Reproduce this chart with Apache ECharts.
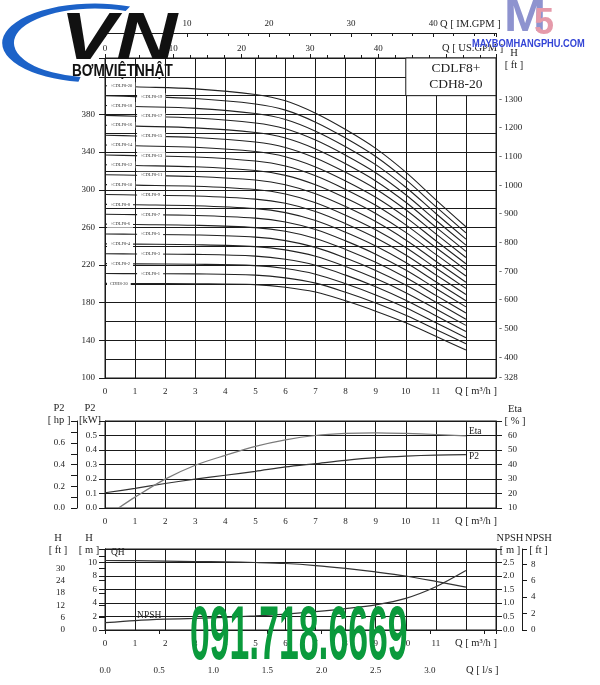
<!DOCTYPE html>
<html>
<head>
<meta charset="utf-8">
<script src="https://cdn.jsdelivr.net/npm/echarts@6/dist/echarts.min.js"></script>
<style>
  html, body { margin: 0; padding: 0; background: #fff; }
  #main { width: 600px; height: 685px; }
</style>
</head>
<body>
<div id="main"></div>
<script>
// H-Q curves of CDH8-20 alone and with +CDLF8-1 ... +CDLF8-20 stages (m)
const qMain = [0, 1, 3, 5, 6, 7, 8, 9, 10, 11, 12];
const curveNames = ['CDH8-20', '+CDLF8-1', '+CDLF8-2', '+CDLF8-3', '+CDLF8-4', '+CDLF8-5',
  '+CDLF8-6', '+CDLF8-7', '+CDLF8-8', '+CDLF8-9', '+CDLF8-10', '+CDLF8-11', '+CDLF8-12',
  '+CDLF8-13', '+CDLF8-14', '+CDLF8-15', '+CDLF8-16', '+CDLF8-17', '+CDLF8-18', '+CDLF8-19', '+CDLF8-20'];
const headCurves = [
  [200.5, 200.4, 200.2, 199.2, 196.5, 191.3, 182.0, 171.0, 158.7, 144.3, 129.7],
  [211.0, 210.9, 210.6, 209.3, 206.4, 200.8, 191.1, 179.7, 166.7, 151.6, 136.3],
  [221.5, 221.3, 220.9, 219.4, 216.3, 210.3, 200.2, 188.3, 174.7, 158.8, 142.8],
  [232.0, 231.8, 231.3, 229.5, 226.2, 219.8, 209.3, 197.0, 182.7, 166.1, 149.4],
  [242.5, 242.2, 241.6, 239.6, 236.1, 229.3, 218.4, 205.6, 190.7, 173.3, 155.9],
  [253.0, 252.7, 252.0, 249.7, 246.0, 238.8, 227.5, 214.3, 198.7, 180.6, 162.5],
  [263.5, 263.1, 262.3, 259.8, 255.9, 248.3, 236.6, 222.9, 206.7, 187.8, 169.0],
  [274.0, 273.6, 272.7, 269.9, 265.8, 257.8, 245.7, 231.6, 214.7, 195.1, 175.6],
  [284.5, 284.0, 283.0, 280.0, 275.7, 267.3, 254.8, 240.2, 222.7, 202.3, 182.1],
  [295.0, 294.5, 293.4, 290.1, 285.6, 276.8, 263.9, 248.9, 230.7, 209.6, 188.7],
  [305.5, 304.9, 303.7, 300.2, 295.5, 286.3, 273.0, 257.5, 238.7, 216.8, 195.2],
  [316.0, 315.4, 314.1, 310.3, 305.4, 295.8, 282.1, 266.2, 246.7, 224.1, 201.8],
  [326.5, 325.8, 324.4, 320.4, 315.3, 305.3, 291.2, 274.8, 254.7, 231.3, 208.3],
  [337.0, 336.3, 334.8, 330.5, 325.2, 314.8, 300.3, 283.5, 262.7, 238.6, 214.9],
  [347.5, 346.7, 345.1, 340.6, 335.1, 324.3, 309.4, 292.1, 270.7, 245.8, 221.4],
  [358.0, 357.2, 355.5, 350.7, 345.0, 333.8, 318.5, 300.8, 278.7, 253.1, 228.0],
  [368.5, 367.6, 365.8, 360.8, 354.9, 343.3, 327.6, 309.4, 286.7, 260.3, 234.5],
  [379.0, 378.1, 376.2, 370.9, 364.8, 352.8, 336.7, 318.1, 294.7, 267.6, 241.1],
  [389.5, 388.5, 386.5, 381.0, 374.7, 362.3, 345.8, 326.7, 302.7, 274.8, 247.6],
  [400.0, 399.0, 396.9, 391.1, 384.6, 371.8, 354.9, 335.4, 310.7, 282.1, 254.2],
  [410.5, 409.4, 407.2, 401.2, 394.5, 381.3, 364.0, 344.0, 318.7, 289.3, 260.7]
];

// power / efficiency panel
const qPerf = [0, 1, 2, 3, 4, 5, 6, 7, 8, 9, 10, 11, 12];
const p2Kw = [0.105, 0.135, 0.169, 0.199, 0.226, 0.253, 0.283, 0.306, 0.329, 0.347, 0.358, 0.365, 0.368];
const etaQ = [0.45, 1, 2, 3, 4, 5, 6, 7, 8, 9, 10, 11, 12];
const etaPct = [10, 17.5, 29.9, 39.5, 46.3, 52.5, 57, 60, 61.4, 61.8, 61.4, 60.7, 59.8];

// single stage QH and NPSH panel
const qhHead = [10.3, 10.27, 10.2, 10.15, 10.1, 10.0, 9.85, 9.55, 9.12, 8.6, 8.0, 7.2, 6.35];
const npshM = [0.27, 0.35, 0.40, 0.43, 0.47, 0.52, 0.59, 0.68, 0.79, 0.93, 1.17, 1.6, 2.2];

// right hand ft scale of the main chart
const ftTicks = [328.084, 400, 500, 600, 700, 800, 900, 1000, 1100, 1200, 1300];

const FT = 3.28084, USGPM = 4.40287, IMGPM = 3.66614, HP = 1.34102;
const serif = 'Liberation Serif';
const ink = '#1a1a1a';
const lbl = { color: '#222', fontFamily: serif, fontSize: 9 };
const nameTxt = { color: '#222', fontFamily: serif, fontSize: 10.5, lineHeight: 12 };
// invisible anchor point for a text label on a line
const anchor = { symbol: 'circle', symbolSize: 0, itemStyle: { color: 'transparent', borderWidth: 0, borderColor: 'transparent' } };

const chart = echarts.init(document.getElementById('main'));

function qAxis(gridIndex) {
  return {
    type: 'value', gridIndex, min: 0, max: 13, interval: 1,
    name: 'Q [ m³/h ]', nameLocation: 'end', nameGap: -41, nameMoveOverlap: false,
    nameTextStyle: Object.assign({}, nameTxt, { verticalAlign: 'top', lineHeight: 26 }),
    axisLine: { show: true, lineStyle: { color: ink } },
    axisTick: { show: false },
    axisLabel: Object.assign({}, lbl, { margin: 9, formatter: v => (v <= 11 ? String(v) : '') }),
    splitLine: { show: true, lineStyle: { color: ink, width: 1 } }
  };
}

function yAx(o) {
  return Object.assign({
    type: 'value', nameLocation: 'end', nameMoveOverlap: false,
    axisLine: { show: true, lineStyle: { color: ink } },
    axisTick: { show: true, length: 6, lineStyle: { color: ink } },
    splitLine: { show: false }
  }, o);
}

const headSeries = headCurves.map((vals, n) => ({
  type: 'line', xAxisIndex: 0, yAxisIndex: 0, smooth: 0.35,
  symbol: 'none', showSymbol: true, silent: true, z: 3,
  lineStyle: { color: '#222', width: 1.1 },
  data: vals.map((h, i) => {
    if (i !== (n % 2 === 0 ? 0 : 1)) return [qMain[i], h];
    return Object.assign({ value: [qMain[i], h] }, anchor, {
      label: {
        show: true, formatter: curveNames[n], position: 'right', distance: 2,
        fontFamily: serif, fontSize: 4.5, color: '#333',
        backgroundColor: '#fff', padding: [1, 3]
      }
    });
  })
}));

headSeries[0].markArea = {
  silent: true,
  itemStyle: { color: '#fff', borderColor: ink, borderWidth: 1 },
  label: {
    show: true, position: 'inside', offset: [5, 0],
    formatter: 'CDLF8+\nCDH8-20', fontFamily: serif, fontSize: 13.5, lineHeight: 16, color: '#222'
  },
  data: [[{ coord: [10, 400] }, { coord: [13, 440] }]]
};

const option = {
  animation: false,
  textStyle: { fontFamily: serif },
  grid: [
    { left: 105, top: 58, width: 391, height: 320, show: true, borderColor: ink, borderWidth: 1 },
    { left: 105, top: 421, width: 391, height: 87, show: true, borderColor: ink, borderWidth: 1 },
    { left: 105, top: 549, width: 391, height: 81, show: true, borderColor: ink, borderWidth: 1 }
  ],
  xAxis: [
    qAxis(0),
    {
      type: 'value', gridIndex: 0, position: 'top', min: 0, max: 13 * USGPM, interval: 10,
      name: 'Q [ US.GPM ]', nameLocation: 'end', nameGap: -54, nameMoveOverlap: false,
      nameTextStyle: Object.assign({}, nameTxt, { verticalAlign: 'bottom', lineHeight: 20 }),
      axisLine: { show: true, lineStyle: { color: ink } },
      axisTick: { show: true, length: 4, lineStyle: { color: ink } },
      minorTick: { show: true, splitNumber: 4, length: 3, lineStyle: { color: ink } },
      axisLabel: Object.assign({}, lbl, { margin: 5, formatter: v => (v <= 40 ? String(v) : '') }),
      splitLine: { show: false }
    },
    {
      type: 'value', gridIndex: 0, position: 'top', offset: 25, min: 0, max: 13 * IMGPM, interval: 10,
      name: 'Q [ IM.GPM ]', nameLocation: 'end', nameGap: -56, nameMoveOverlap: false,
      nameTextStyle: Object.assign({}, nameTxt, { verticalAlign: 'bottom', lineHeight: 18 }),
      axisLine: { show: true, lineStyle: { color: ink } },
      axisTick: { show: true, inside: true, length: 4, lineStyle: { color: ink } },
      minorTick: { show: true, splitNumber: 4, length: 3, lineStyle: { color: ink } },
      axisLabel: Object.assign({}, lbl, { margin: 5, formatter: v => (v > 0 && v <= 40 ? String(v) : '') }),
      splitLine: { show: false }
    },
    qAxis(1),
    qAxis(2),
    {
      type: 'value', gridIndex: 2, position: 'bottom', offset: 30, min: 0, max: 13 / 3.6, interval: 0.5,
      axisLine: { show: true, lineStyle: { color: ink } },
      axisTick: { show: true, length: 4, lineStyle: { color: ink } },
      axisLabel: Object.assign({}, lbl, { margin: 6, formatter: v => (v <= 3.01 ? v.toFixed(1) : '') }),
      splitLine: { show: false }
    }
  ],
  yAxis: [
    yAx({
      gridIndex: 0, position: 'left', min: 100, max: 440, interval: 40,
      axisLabel: Object.assign({}, lbl, { margin: 10, formatter: v => (v <= 380 ? String(v) : '') }),
      splitLine: { show: true, lineStyle: { color: ink, width: 1 } },
      minorTick: { show: false, splitNumber: 2 },
      minorSplitLine: { show: true, lineStyle: { color: ink, width: 1 } }
    }),
    yAx({
      gridIndex: 0, position: 'right', min: 100 * FT, max: 440 * FT, interval: 100,
      axisTick: { show: false },
      axisLabel: Object.assign({}, lbl, { margin: 3, customValues: ftTicks, formatter: v => '- ' + Math.round(v) })
    }),
    yAx({
      gridIndex: 1, position: 'left', min: 0, max: 0.6, interval: 0.1,
      name: 'P2\n[kW]', nameGap: -5,
      nameTextStyle: Object.assign({}, nameTxt, { padding: [0, 30, 0, 0] }),
      axisLabel: Object.assign({}, lbl, { margin: 8, formatter: v => (v < 0.55 ? v.toFixed(1) : '') }),
      splitLine: { show: true, lineStyle: { color: ink, width: 1 } }
    }),
    yAx({
      gridIndex: 1, position: 'left', offset: 28, min: 0, max: 0.6 * HP, interval: 0.2,
      name: 'P2\n[ hp ]', nameGap: -5,
      nameTextStyle: Object.assign({}, nameTxt, { padding: [0, 36, 0, 0] }),
      minorTick: { show: true, splitNumber: 2, length: 6, lineStyle: { color: ink } },
      axisLabel: Object.assign({}, lbl, { margin: 12, formatter: v => (v < 0.7 ? v.toFixed(1) : '') })
    }),
    yAx({
      gridIndex: 1, position: 'right', min: 10, max: 70, interval: 10,
      name: 'Eta\n[ % ]', nameGap: -6,
      nameTextStyle: Object.assign({}, nameTxt, { padding: [0, 0, 0, 38] }),
      axisLabel: Object.assign({}, lbl, { margin: 12, formatter: v => (v <= 60 ? String(v) : '') })
    }),
    yAx({
      gridIndex: 2, position: 'left', min: 0, max: 12, interval: 2,
      name: 'H\n[ m ]', nameGap: -7,
      nameTextStyle: Object.assign({}, nameTxt, { padding: [0, 32, 0, 0] }),
      axisLabel: Object.assign({}, lbl, { margin: 8, formatter: v => (v <= 10 ? String(v) : '') }),
      splitLine: { show: true, lineStyle: { color: ink, width: 1 } }
    }),
    yAx({
      gridIndex: 2, position: 'left', offset: 28, min: 0, max: 12 * FT, interval: 6,
      axisLabel: Object.assign({}, lbl, { margin: 12, formatter: v => (v <= 30 ? String(v) : '') })
    }),
    yAx({
      gridIndex: 2, position: 'right', min: 0, max: 3, interval: 0.5,
      name: 'NPSH\n[ m ]', nameGap: -7,
      nameTextStyle: Object.assign({}, nameTxt, { padding: [0, 0, 0, 28] }),
      axisLabel: Object.assign({}, lbl, { margin: 7, formatter: v => (v <= 2.5 ? v.toFixed(1) : '') })
    }),
    yAx({
      gridIndex: 2, position: 'right', offset: 26, min: 0, max: 3 * FT, interval: 2,
      name: 'NPSH\n[ ft ]', nameGap: -7,
      nameTextStyle: Object.assign({}, nameTxt, { padding: [0, 0, 0, 33] }),
      axisTick: { show: true, length: 5, lineStyle: { color: ink } },
      axisLabel: Object.assign({}, lbl, { margin: 9, formatter: v => (v <= 8 ? String(v) : '') })
    })
  ],
  series: headSeries.concat([
    {
      name: 'P2', type: 'line', xAxisIndex: 3, yAxisIndex: 2, smooth: 0.3, symbol: 'none',
      lineStyle: { color: '#333', width: 1.2 },
      endLabel: { show: true, formatter: 'P2', distance: 3, offset: [0, 2], fontFamily: serif, fontSize: 9.5, color: '#222' },
      data: qPerf.map((q, i) => [q, p2Kw[i]])
    },
    {
      name: 'Eta', type: 'line', xAxisIndex: 3, yAxisIndex: 4, smooth: 0.3, symbol: 'none',
      lineStyle: { color: '#7a7a7a', width: 1.2 },
      endLabel: { show: true, formatter: 'Eta', distance: 3, offset: [0, -4], fontFamily: serif, fontSize: 9.5, color: '#222' },
      data: etaQ.map((q, i) => [q, etaPct[i]])
    },
    {
      name: 'QH', type: 'line', xAxisIndex: 4, yAxisIndex: 5, smooth: 0.3,
      symbol: 'none', showSymbol: true,
      lineStyle: { color: '#333', width: 1.2 },
      data: qPerf.map((q, i) => i === 0
        ? Object.assign({ value: [q, qhHead[i]] }, anchor, {
            label: { show: true, formatter: 'QH', position: 'right', distance: 6, offset: [0, -8], fontFamily: serif, fontSize: 9.5, color: '#222' } })
        : [q, qhHead[i]])
    },
    {
      name: 'NPSH', type: 'line', xAxisIndex: 4, yAxisIndex: 7, smooth: 0.3,
      symbol: 'none', showSymbol: true,
      lineStyle: { color: '#333', width: 1.2 },
      data: qPerf.map((q, i) => i === 1
        ? Object.assign({ value: [q, npshM[i]] }, anchor, {
            label: { show: true, formatter: 'NPSH', position: 'right', distance: 2, offset: [0, -5], fontFamily: serif, fontSize: 9.5, color: '#222' } })
        : [q, npshM[i]])
    }
  ]),
  graphic: [
    // axis titles that ECharts would place badly
    {
      type: 'text', x: 514, y: 71, z: 50,
      style: { text: 'H\n[ ft ]', font: '10.5px "Liberation Serif"', lineHeight: 12, fill: '#222', align: 'center', verticalAlign: 'bottom' }
    },
    {
      type: 'text', x: 58, y: 556, z: 50,
      style: { text: 'H\n[ ft ]', font: '10.5px "Liberation Serif"', lineHeight: 12, fill: '#222', align: 'center', verticalAlign: 'bottom' }
    },
    {
      type: 'text', x: 466, y: 670, z: 50,
      style: { text: 'Q [ l/s ]', font: '10.5px "Liberation Serif"', fill: '#222', align: 'left', verticalAlign: 'middle' }
    },
    // watermarks
    {
      type: 'arc', x: 95, y: 43, scaleX: 2.35, z: 100,
      shape: { cx: 0, cy: 0, r: 37, startAngle: 1.75, endAngle: 5.1, clockwise: true },
      style: { stroke: '#1c62c8', lineWidth: 5, fill: null }
    },
    {
      type: 'text', x: 60, y: 8, scaleX: 1.28, z: 101,
      style: { text: 'VN', font: 'italic 900 66px "Liberation Sans"', fill: '#111' }
    },
    {
      type: 'text', x: 72, y: 64, scaleX: 0.85, z: 101,
      style: { text: 'BƠMVIỆTNHẬT', font: 'bold 16px "Liberation Sans"', fill: '#111' }
    },
    {
      type: 'text', x: 504, y: -3, scaleX: 1.15, z: 101,
      style: { text: 'M', font: 'bold 44px "Liberation Sans"', fill: '#8e93cf' }
    },
    {
      type: 'text', x: 534, y: 6, z: 101,
      style: { text: '5', font: 'bold 36px "Liberation Sans"', fill: '#e59aaa' }
    },
    {
      type: 'text', x: 472, y: 39, scaleX: 0.93, z: 101,
      style: { text: 'MAYBOMHANGPHU.COM', font: 'bold 10px "Liberation Sans"', fill: '#3344d6', stroke: '#fff', lineWidth: 0.5 }
    },
    {
      type: 'text', x: 190, y: 600, scaleX: 0.468, z: 101,
      style: { text: '091.718.6669', font: 'bold 76px "Liberation Sans"', fill: '#0a9a3c' }
    }
  ]
};

window.addEventListener('resize', () => chart.resize());
chart.setOption(option);
</script>
</body>
</html>
